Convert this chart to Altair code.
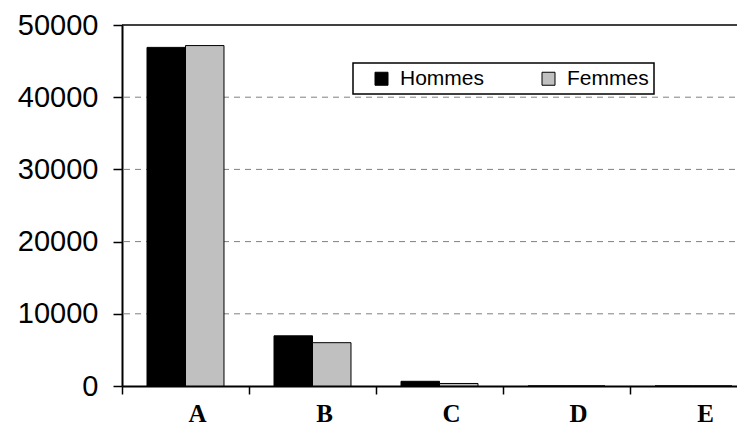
import altair as alt
import pandas as pd

categories = ["A", "B", "C", "D", "E"]
hommes = [46900, 6950, 650, 0, 0]
femmes = [47150, 6000, 350, 0, 0]
series = ["Hommes", "Femmes"]
series_colors = ["#000000", "#C0C0C0"]
grid_values = [10000, 20000, 30000, 40000]
top_value = [50000]
y_ticks = list(range(0, 50001, 5000))

rows = []
for c, h, f in zip(categories, hommes, femmes):
    rows.append({"cat": c, "serie": "Hommes", "val": h})
    rows.append({"cat": c, "serie": "Femmes", "val": f})
df = pd.DataFrame(rows)

y_scale = alt.Scale(domain=[0, 50000], nice=False)

grid = alt.Chart(pd.DataFrame({"v": grid_values})).mark_rule(
    color="#808080", strokeDash=[6, 5], strokeWidth=1
).encode(y=alt.Y("v:Q", scale=y_scale))

top = alt.Chart(pd.DataFrame({"v": top_value})).mark_rule(
    color="#000000", strokeWidth=1.5
).encode(y=alt.Y("v:Q", scale=y_scale))

bars = alt.Chart(df).mark_bar(stroke="#000000", strokeWidth=1).encode(
    x=alt.X(
        "cat:N",
        sort=categories,
        scale=alt.Scale(paddingInner=0, paddingOuter=0),
        axis=alt.Axis(
            title=None, labelAngle=0, bandPosition=0, ticks=True, tickSize=8,
            tickColor="#000000", tickWidth=1.5, domainColor="#000000", domainWidth=2,
            labelFont="Liberation Serif", labelFontWeight="bold", labelFontSize=25,
            labelColor="#000000", labelPadding=7, labelOffset=12, grid=False,
        ),
    ),
    xOffset=alt.XOffset(
        "serie:N", sort=series,
        scale=alt.Scale(paddingInner=0, paddingOuter=0.65),
    ),
    y=alt.Y(
        "val:Q",
        scale=y_scale,
        axis=alt.Axis(
            title=None, values=y_ticks, grid=False,
            labelExpr="datum.value % 10000 == 0 ? format(datum.value, 'd') : ''",
            tickSize=9, tickColor="#000000", tickWidth=1.5,
            domainColor="#000000", domainWidth=2,
            labelFont="Liberation Sans", labelFontSize=29, labelColor="#000000",
            labelPadding=15,
        ),
    ),
    color=alt.Color(
        "serie:N",
        sort=series,
        scale=alt.Scale(domain=series, range=series_colors),
        legend=alt.Legend(
            title=None, orient="none", legendX=231, legendY=38, direction="horizontal",
            symbolType="square", symbolSize=169, symbolStrokeColor="#000000",
            symbolStrokeWidth=1, labelFont="Liberation Sans", labelFontSize=21,
            labelColor="#000000", labelOffset=8, columnPadding=40, padding=5,
            symbolOffset=13, strokeColor="#000000", fillColor="#FFFFFF",
        ),
    ),
)

chart = alt.layer(grid, top, bars).properties(
    width=635, height=361,
    autosize=alt.AutoSizeParams(type="none"),
    padding={"left": 114, "top": 17, "right": -20, "bottom": 44},
).configure_view(strokeWidth=0).configure_legend(strokeWidth=1.5)

chart.save("out.html", embed_options={"renderer": "svg", "actions": False})
